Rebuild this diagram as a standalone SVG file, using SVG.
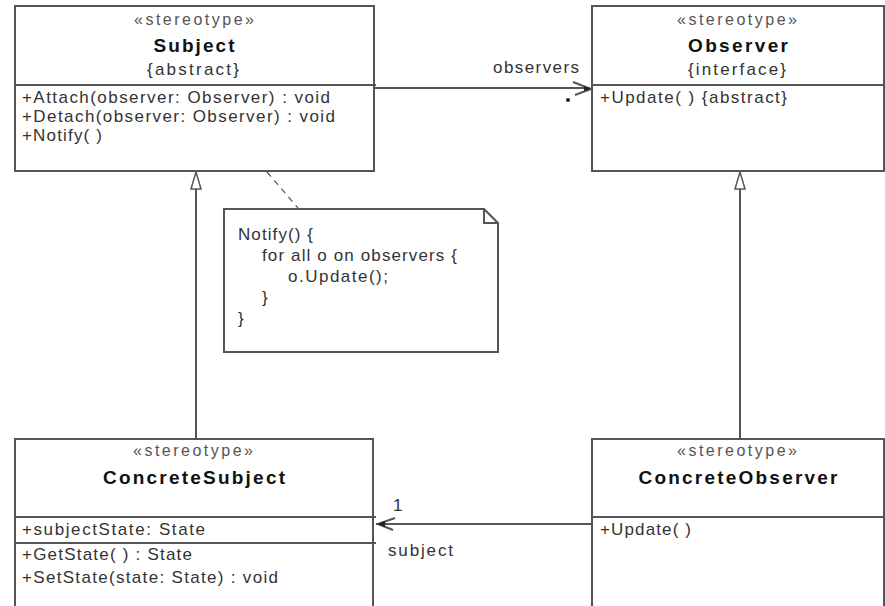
<svg xmlns="http://www.w3.org/2000/svg" width="885" height="606" viewBox="0 0 885 606">
  <style>
    .box { fill: #ffffff; stroke: #555555; stroke-width: 2; }
    .div { stroke: #555555; stroke-width: 2; fill: none; }
    .edge { stroke: #555555; stroke-width: 2; fill: none; }
    .dash { stroke: #555555; stroke-width: 1.2; fill: none; stroke-dasharray: 6 5; }
    .txt { font-family: "Liberation Sans", Arial, sans-serif; font-size: 17px; fill: #333333; }
    .st { font-family: "Liberation Sans", Arial, sans-serif; font-size: 16px; fill: #555555; text-anchor: middle; }
    .name { font-family: "Liberation Sans", Arial, sans-serif; font-size: 19px; font-weight: bold; fill: #111111; text-anchor: middle; }
    .mid { text-anchor: middle; }
  </style>
  <defs>
    <!-- hollow triangle for generalization, pointing along the line direction -->
    <marker id="gen" markerWidth="20" markerHeight="12" refX="19" refY="6" orient="auto" markerUnits="userSpaceOnUse" viewBox="0 0 20 12">
      <path d="M19 6 L2 1 L2 11 Z" fill="#ffffff" stroke="#555555" stroke-width="1.5"/>
    </marker>
  </defs>
  <rect width="885" height="606" fill="#ffffff"/>

  <!-- Subject -->
  <g id="subject">
    <rect class="box" x="15" y="6" width="359" height="165"/>
    <line class="div" x1="15" y1="85" x2="376" y2="85"/>
    <text class="st" x="194" y="25" textLength="120" lengthAdjust="spacing">«stereotype»</text>
    <text class="name" x="194" y="52" textLength="81" lengthAdjust="spacing">Subject</text>
    <text class="txt mid" x="193" y="75" textLength="92" lengthAdjust="spacing">{abstract}</text>
    <text class="txt" x="22" y="103" textLength="308" lengthAdjust="spacing">+Attach(observer: Observer) : void</text>
    <text class="txt" x="22" y="122" textLength="313" lengthAdjust="spacing">+Detach(observer: Observer) : void</text>
    <text class="txt" x="22" y="141" textLength="80" lengthAdjust="spacing">+Notify( )</text>
  </g>

  <!-- Observer -->
  <g id="observer">
    <rect class="box" x="592" y="6" width="292" height="165"/>
    <line class="div" x1="592" y1="85" x2="884" y2="85"/>
    <text class="st" x="737" y="25" textLength="120" lengthAdjust="spacing">«stereotype»</text>
    <text class="name" x="738" y="52" textLength="100" lengthAdjust="spacing">Observer</text>
    <text class="txt mid" x="737" y="75" textLength="98" lengthAdjust="spacing">{interface}</text>
    <text class="txt" x="600" y="103" textLength="187" lengthAdjust="spacing">+Update( ) {abstract}</text>
  </g>

  <!-- Note attached to Subject -->
  <g id="note">
    <path class="box" d="M224 209 H484 L498 223 V352 H224 Z"/>
    <path class="div" d="M484 209 V223 H498" stroke-width="1.2"/>
    <text class="txt" x="238" y="240" textLength="75" lengthAdjust="spacing">Notify() {</text>
    <text class="txt" x="262" y="261" textLength="195" lengthAdjust="spacing">for all o on observers {</text>
    <text class="txt" x="288" y="282" textLength="100" lengthAdjust="spacing">o.Update();</text>
    <text class="txt" x="262" y="303">}</text>
    <text class="txt" x="238" y="324">}</text>
  </g>

  <!-- ConcreteSubject -->
  <g id="concrete-subject">
    <path class="box" d="M15 612 V439 H373 V612"/>
    <line class="div" x1="15" y1="517" x2="376" y2="517"/>
    <line class="div" x1="15" y1="543" x2="376" y2="543"/>
    <text class="st" x="193" y="456" textLength="120" lengthAdjust="spacing">«stereotype»</text>
    <text class="name" x="194" y="484" textLength="182" lengthAdjust="spacing">ConcreteSubject</text>
    <text class="txt" x="22" y="535" textLength="183" lengthAdjust="spacing">+subjectState: State</text>
    <text class="txt" x="22" y="560" textLength="170" lengthAdjust="spacing">+GetState( ) : State</text>
    <text class="txt" x="22" y="583" textLength="256" lengthAdjust="spacing">+SetState(state: State) : void</text>
  </g>

  <!-- ConcreteObserver -->
  <g id="concrete-observer">
    <path class="box" d="M592 612 V439 H884 V612"/>
    <line class="div" x1="592" y1="517" x2="884" y2="517"/>
    <text class="st" x="737" y="456" textLength="120" lengthAdjust="spacing">«stereotype»</text>
    <text class="name" x="738" y="484" textLength="199" lengthAdjust="spacing">ConcreteObserver</text>
    <text class="txt" x="600" y="535" textLength="91" lengthAdjust="spacing">+Update( )</text>
  </g>

  <!-- Connectors -->
  <g id="connectors">
    <!-- generalizations -->
    <line class="edge" x1="196" y1="439" x2="196" y2="172" marker-end="url(#gen)"/>
    <line class="edge" x1="740" y1="439" x2="740" y2="172" marker-end="url(#gen)"/>
    <!-- note anchor -->
    <line class="dash" x1="267" y1="172" x2="298" y2="208"/>
    <!-- Subject -> Observer: observers -->
    <line class="edge" x1="374" y1="88" x2="590" y2="88"/>
    <path class="edge" d="M573 82 L591 89 L575 95" stroke-width="1.5"/>
    <path d="M584 86 L591 89 L584 91 Z" fill="#222222"/>
    <circle cx="568" cy="100" r="2" fill="#222222"/>
    <text class="txt" x="493" y="73" textLength="86" lengthAdjust="spacing">observers</text>
    <!-- ConcreteObserver -> ConcreteSubject: subject -->
    <line class="edge" x1="592" y1="524" x2="376" y2="524"/>
    <path class="edge" d="M395 518 L378 524 L393 530" stroke-width="1.5"/>
    <path d="M377 524 L385 521 L385 527 Z" fill="#222222"/>
    <text class="txt" x="393" y="511">1</text>
    <text class="txt" x="388" y="556" textLength="65" lengthAdjust="spacing">subject</text>
  </g>
</svg>
